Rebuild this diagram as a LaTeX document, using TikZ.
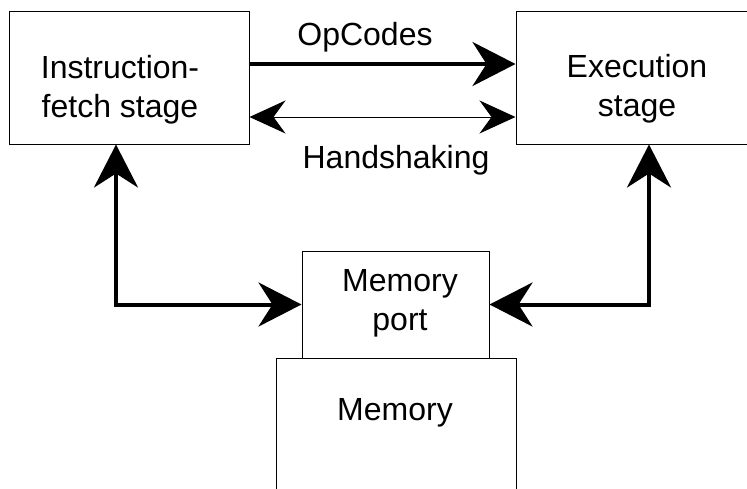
\documentclass[tikz,border=0pt]{standalone}
\usepackage{fontspec}
\setmainfont{Liberation Sans}
\usepackage{tikz}
\usetikzlibrary{arrows.meta}

\tikzset{
    blk/.style={draw, line width=1pt, inner sep=0pt},
    lbl/.style={font=\fontsize{32}{39}\selectfont, align=center, inner sep=0pt, anchor=base},
    bigarrow/.style={line width=4pt, -{Stealth[length=43pt, width=44pt, inset=14pt]}},
    thinarrow/.style={line width=1pt, {Stealth[length=36pt, width=33pt, inset=12pt]}-{Stealth[length=36pt, width=33pt, inset=12pt]}}
}

\begin{document}
\begin{tikzpicture}[x=1pt, y=-1pt]
    \useasboundingbox (0,0) rectangle (747,488);
    \clip (0,0) rectangle (747,488);

    % Boxes
    \node[blk, minimum width=240pt, minimum height=133pt] (fetch) at (129,77.5) {};
    \node[blk, minimum width=240pt, minimum height=133pt] (exec) at (636,77.5) {};
    \node[blk, minimum width=240pt, minimum height=133pt] (mem) at (396,424.5) {};
    \node[blk, fill=white, minimum width=187pt, minimum height=107pt] (port) at (395.5,304.5) {};

    % Box texts (base = last line)
    \node[lbl] (fetchtxt) at (120,117) {Instruction-\\fetch stage};
    \node[lbl] (exectxt) at (637,116) {Execution\\stage};
    \node[lbl] (porttxt) at (400,330) {Memory\\port};
    \node[lbl] (memtxt) at (395,420) {Memory};

    % Links between the stages
    \draw[bigarrow] ([yshift=13.5pt]fetch.east) -- ([yshift=13.5pt]exec.west);
    \draw[thinarrow] ([yshift=-39.5pt]fetch.east) -- ([yshift=-39.5pt]exec.west);
    \node[lbl] (opcodes) at (365,45) {OpCodes};
    \node[lbl] (handshake) at (396,168) {Handshaking};

    % Links to the memory port
    \draw[bigarrow, {Stealth[length=43pt, width=44pt, inset=14pt]}-{Stealth[length=43pt, width=44pt, inset=14pt]}]
        ([xshift=-13pt]fetch.south) |- (port.west);
    \draw[bigarrow, {Stealth[length=43pt, width=44pt, inset=14pt]}-{Stealth[length=43pt, width=44pt, inset=14pt]}]
        ([xshift=13pt]exec.south) |- (port.east);
\end{tikzpicture}
\end{document}
